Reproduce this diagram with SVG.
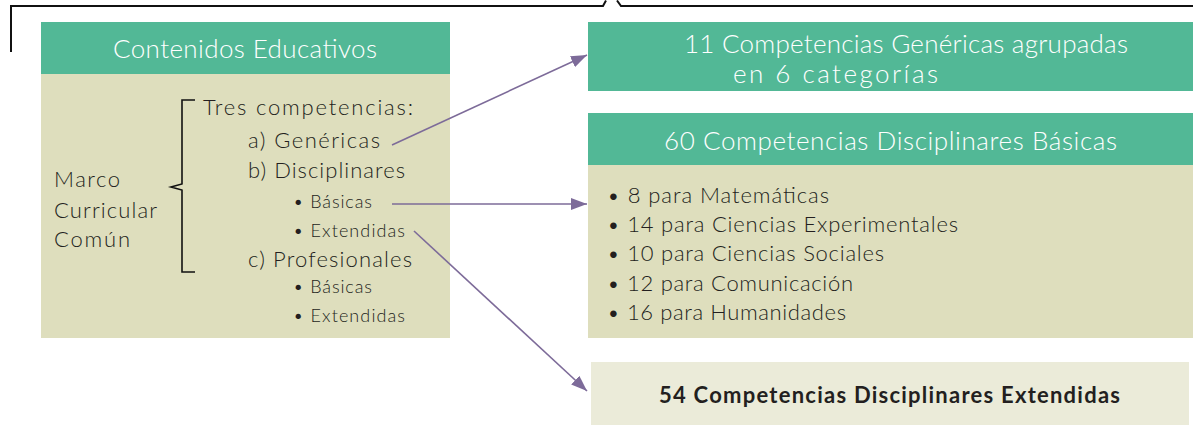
<svg xmlns="http://www.w3.org/2000/svg" width="1193" height="425" viewBox="0 0 1193 425">
<defs>
<style>
.hdr{fill:#52b896}
.body{fill:#dedebd}
.light{fill:#ebebd9}
.t{font-family:Lato,"Noto Sans",sans-serif;font-weight:300;fill:#231f20}
.w{font-family:Lato,"Noto Sans",sans-serif;font-weight:300;fill:#ffffff;font-size:26px}
.conn{stroke:#7d6b99;stroke-width:1.6;fill:none}
.ink{stroke:#111;fill:none}
</style>
<marker id="ah" viewBox="0 0 16 12" refX="16" refY="6" markerWidth="16" markerHeight="12" markerUnits="userSpaceOnUse" orient="auto">
<path d="M0,0 L16,6 L0,12 Z" fill="#7d6b99"/>
</marker>
</defs>
<rect width="1193" height="425" fill="#ffffff"/>
<path class="ink" stroke-width="2" d="M11,52 V6 H603 L606,0.5 M617,0.5 L621,6 H1193"/>
<g id="contenidos">
<rect class="hdr" x="41" y="22" width="409" height="52"/>
<rect class="body" x="41" y="74" width="409" height="264"/>
<text class="w" x="113" y="58" textLength="264">Contenidos Educativos</text>
<g class="t" font-size="22">
<text x="54" y="187" textLength="66">Marco</text>
<text x="54" y="218" textLength="103">Curricular</text>
<text x="54" y="247" textLength="76">Común</text>
</g>
<path class="ink" stroke-width="1.6" d="M195,100 H182 V184 L171,187 L182,190 V272 H195"/>
<g class="t" font-size="22">
<text x="203" y="115" textLength="210">Tres competencias:</text>
<text x="248" y="148" textLength="132">a) Genéricas</text>
<text x="248" y="178" textLength="157">b) Disciplinares</text>
<text x="248" y="267" textLength="164">c) Profesionales</text>
</g>
<g class="t" font-size="18">
<text x="293" y="208" textLength="79">• Básicas</text>
<text x="293" y="237" textLength="112">• Extendidas</text>
<text x="293" y="293" textLength="79">• Básicas</text>
<text x="293" y="322" textLength="112">• Extendidas</text>
</g>
</g>
<g id="genericas">
<rect class="hdr" x="588" y="22" width="605" height="69"/>
<text class="w" x="684" y="53" textLength="444">11 Competencias Genéricas agrupadas</text>
<text class="w" x="733" y="83" textLength="205">en 6 categorías</text>
</g>
<g id="basicas">
<rect class="hdr" x="588" y="113" width="605" height="52"/>
<rect class="body" x="588" y="165" width="605" height="173"/>
<text class="w" x="664" y="150" textLength="453">60 Competencias Disciplinares Básicas</text>
<g class="t" font-size="22">
<text x="607" y="203" textLength="222">• 8 para Matemáticas</text>
<text x="607" y="232" textLength="351">• 14 para Ciencias Experimentales</text>
<text x="607" y="261" textLength="277">• 10 para Ciencias Sociales</text>
<text x="607" y="291" textLength="246">• 12 para Comunicación</text>
<text x="607" y="320" textLength="239">• 16 para Humanidades</text>
</g>
</g>
<g id="extendidas">
<rect class="light" x="591" y="362" width="598" height="63"/>
<text x="659" y="403" textLength="461" font-family="Lato,'Noto Sans',sans-serif" font-weight="700" font-size="22" fill="#231f20">54 Competencias Disciplinares Extendidas</text>
</g>
<g id="connectors">
<line class="conn" x1="392" y1="145" x2="587" y2="55" marker-end="url(#ah)"/>
<line class="conn" x1="392" y1="204" x2="587" y2="204" marker-end="url(#ah)"/>
<line class="conn" x1="414" y1="231" x2="587" y2="391" marker-end="url(#ah)"/>
</g>
</svg>
